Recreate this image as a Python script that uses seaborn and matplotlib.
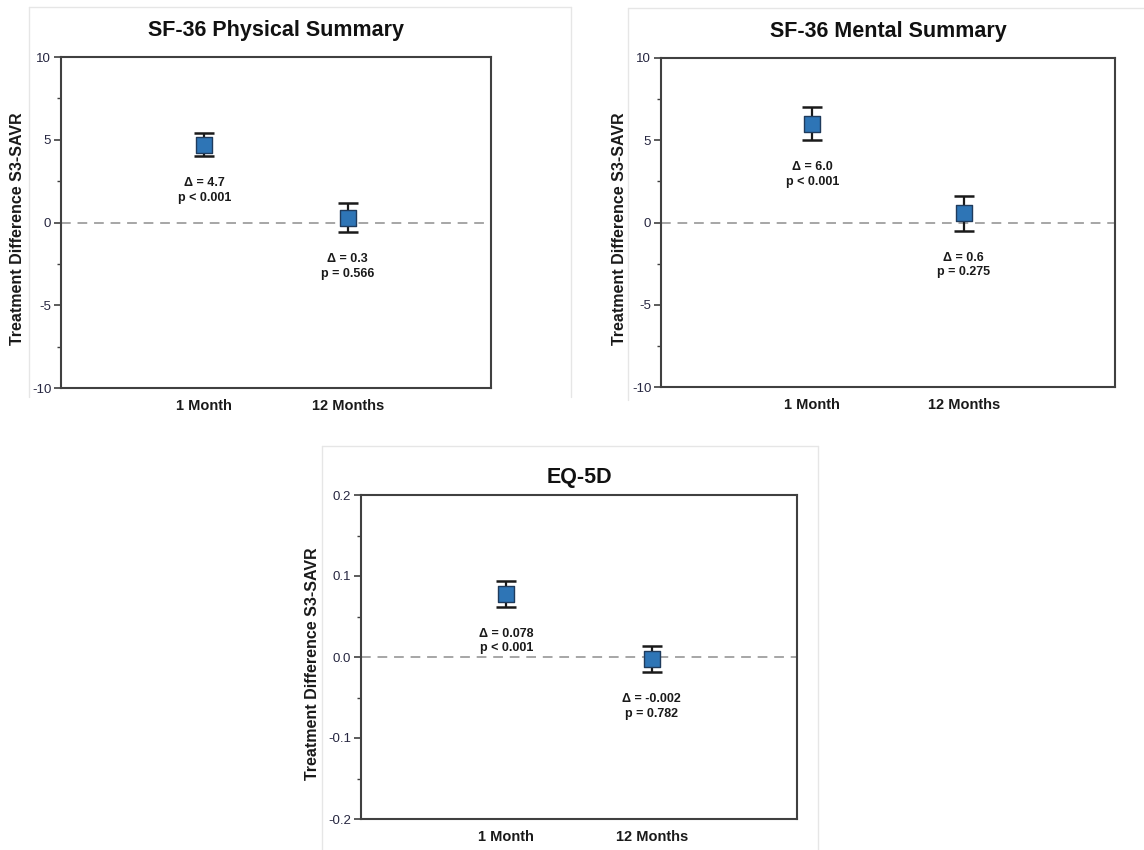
import matplotlib
matplotlib.use("Agg")
import matplotlib.pyplot as plt
import seaborn as sns
import pandas as pd
from matplotlib.lines import Line2D
from matplotlib.ticker import MultipleLocator

sns.set_style("white")
plt.rcParams['font.family'] = ['Liberation Sans', 'DejaVu Sans']

# ---- data ----
timepoints = ["1 Month", "12 Months"]

phys_titles = "SF-36 Physical Summary"
phys_delta = [4.7, 0.3]
phys_low = [4.0, -0.6]
phys_high = [5.4, 1.2]
phys_labels = ["\u0394 = 4.7\np < 0.001", "\u0394 = 0.3\np = 0.566"]

ment_title = "SF-36 Mental Summary"
ment_delta = [6.0, 0.6]
ment_low = [5.0, -0.5]
ment_high = [7.0, 1.6]
ment_labels = ["\u0394 = 6.0\np < 0.001", "\u0394 = 0.6\np = 0.275"]

eq_title = "EQ-5D"
eq_delta = [0.078, -0.002]
eq_low = [0.062, -0.019]
eq_high = [0.094, 0.014]
eq_labels = ["\u0394 = 0.078\np < 0.001", "\u0394 = -0.002\np = 0.782"]

ylabel = "Treatment Difference S3-SAVR"

W, H = 1144, 850
fig = plt.figure(figsize=(W / 100, H / 100), dpi=100)
fig.patch.set_facecolor("white")

def fx(px):
    return px / W

def fy(py):
    return 1 - py / H

# faint panel borders (left, top, right edges only)
for (x0, y0, x1, y1) in [(29, 7, 571, 397), (628, 8, 1150, 400), (322, 446, 818, 860)]:
    for xs, ys in [((x0, x0), (y0, y1)), ((x0, x1), (y0, y0)), ((x1, x1), (y0, y1))]:
        fig.add_artist(Line2D([fx(v) for v in xs], [fy(v) for v in ys],
                              transform=fig.transFigure, color="#e6e6e6",
                              linewidth=1.0, zorder=-5))

panels = [
    dict(rect=(61, 57, 491, 388), title=phys_titles, d=phys_delta, lo=phys_low, hi=phys_high,
         lab=phys_labels, ylim=(-10, 10), major=5, minor=2.5, fmt="{:.0f}", tpad=15, ylx=-36),
    dict(rect=(661, 58, 1115, 387), title=ment_title, d=ment_delta, lo=ment_low, hi=ment_high,
         lab=ment_labels, ylim=(-10, 10), major=5, minor=2.5, fmt="{:.0f}", tpad=15, ylx=-34),
    dict(rect=(361, 495, 797, 819), title=eq_title, d=eq_delta, lo=eq_low, hi=eq_high,
         lab=eq_labels, ylim=(-0.2, 0.2), major=0.1, minor=0.05, fmt="{:.1f}", tpad=9, ylx=-41),
]

spine_col = "#404040"
for p in panels:
    x0, y0, x1, y1 = p["rect"]
    ax = fig.add_axes([fx(x0), fy(y1), fx(x1 - x0), (y1 - y0) / H])
    df = pd.DataFrame({"time": timepoints, "delta": p["d"], "low": p["lo"], "high": p["hi"]})
    ax.axhline(0, color="#a6a6a6", linestyle=(0, (5, 3.5)), linewidth=1.4, zorder=1)
    yerr = [df["delta"] - df["low"], df["high"] - df["delta"]]
    ax.errorbar(df["time"], df["delta"], yerr=yerr, fmt="none", ecolor="#1a1a1a",
                elinewidth=1.6, capsize=7.5, capthick=1.8, zorder=2)
    sns.scatterplot(data=df, x="time", y="delta", ax=ax, marker="s", s=135,
                    color="#2e75b6", edgecolor="#1f3b5c", linewidth=1.0, zorder=3)
    for i, row in df.iterrows():
        ax.annotate(p["lab"][i], xy=(i, row["low"]), xytext=(0, -15),
                    textcoords="offset points", ha="center", va="top",
                    fontsize=9, fontweight="bold", color="#1a1a1a", linespacing=1.3)
    ax.set_xlim(-1, 2)
    ax.set_ylim(*p["ylim"])
    ax.yaxis.set_minor_locator(MultipleLocator(p["minor"]))
    ticks = [p["ylim"][0] + k * p["major"] for k in range(5)]
    ax.set_yticks(ticks)
    ax.set_yticklabels([p["fmt"].format(t) if abs(t) > 1e-9 else p["fmt"].format(0) for t in ticks])
    ax.tick_params(axis="y", which="major", direction="out", length=5, width=1.2,
                   color=spine_col, labelsize=9.5, labelcolor="#262640", pad=2, left=True)
    ax.tick_params(axis="y", which="minor", direction="out", length=3, width=1.0,
                   color=spine_col, left=True)
    ax.tick_params(axis="x", length=0, labelsize=10.5, pad=8)
    for lbl in ax.get_xticklabels():
        lbl.set_fontweight("bold")
        lbl.set_color("#1a1a1a")
    for s in ax.spines.values():
        s.set_color(spine_col)
        s.set_linewidth(1.5)
        s.set_visible(True)
    ax.set_xlabel("")
    ax.set_ylabel(ylabel, fontsize=11.5, fontweight="bold", color="#1a1a1a")
    ax.yaxis.set_label_coords(p["ylx"] / (x1 - x0), 0.48)
    ax.set_title(p["title"], fontsize=15.5, fontweight="bold", color="#111111", pad=p["tpad"])
    ax.set_facecolor("white")
    ax.grid(False)

fig.savefig("out.png", dpi=100, facecolor="white")
